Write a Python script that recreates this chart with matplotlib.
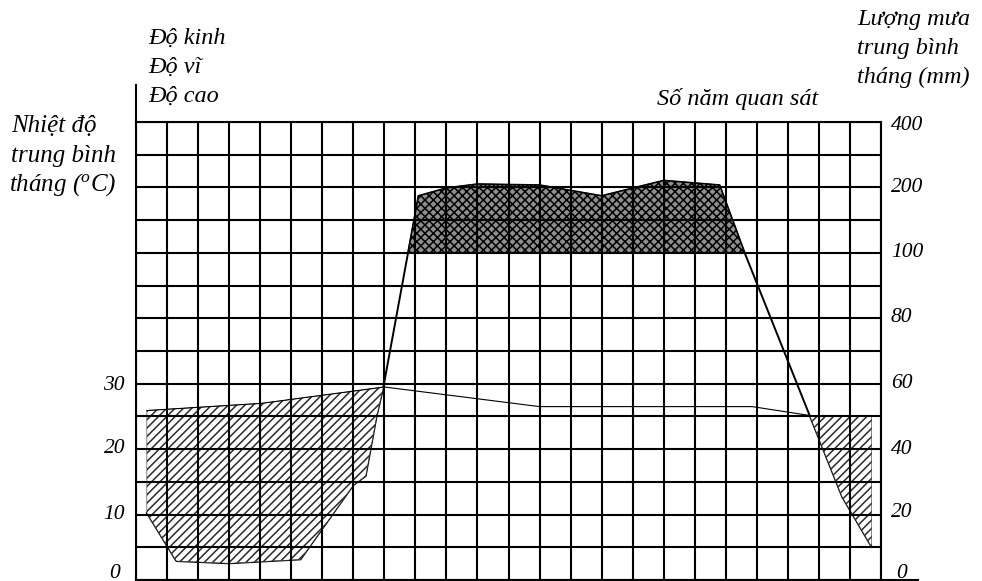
import matplotlib
matplotlib.use("Agg")
import matplotlib.pyplot as plt
import numpy as np

# grid: 24 columns, 14 rows (5 degC / 10 mm per row, compressed above 100 mm)
n_cols = 24
temp_ticks = [0, 10, 20, 30]
rain_ticks = [0, 20, 40, 60, 80, 100, 200, 400]

# temperature curve (column position, degC)
temp_x = [0.35, 4.05, 8.0, 13.0, 19.85, 21.9, 23.7]
temp_c = [25.9, 27.0, 29.5, 26.5, 26.5, 25.0, 25.0]

# rainfall curve (column position, mm)
rain_x = [0.35, 1.3, 3.0, 5.3, 7.0, 7.4, 7.75, 7.97, 9.1, 10.0, 11.0, 13.0,
          15.0, 17.0, 18.8, 19.6, 22.75, 23.7]
rain_mm = [20.5, 5.8, 5.1, 6.3, 29, 31.8, 50, 59, 187, 199, 210, 207,
           187, 221, 207, 101, 25.4, 10.1]


def rain_to_y(p):
    p = np.asarray(p, dtype=float)
    return np.where(p <= 100, p / 2,
                    np.where(p <= 200, 50 + (p - 100) / 10, 60 + (p - 200) / 20))


plt.rcParams["font.family"] = ["Liberation Serif", "DejaVu Serif"]
plt.rcParams["font.style"] = "italic"
plt.rcParams["mathtext.fontset"] = "custom"
plt.rcParams["mathtext.it"] = "Liberation Serif:italic"
plt.rcParams["mathtext.rm"] = "Liberation Serif:italic"
plt.rcParams["hatch.linewidth"] = 1.1

W, H = 982, 581
fig = plt.figure(figsize=(W / 100, H / 100), dpi=100)
ax = fig.add_axes([136 / W, 1 / H, 745 / W, 458 / H])
ax.set_xlim(0, n_cols)
ax.set_ylim(0, 70)

ax.set_xticks(range(n_cols + 1))
ax.set_yticks(range(0, 71, 5))
ax.tick_params(length=0, labelleft=False, labelbottom=False)
ax.set_axisbelow(False)
ax.grid(True, color="black", lw=1.5)
for s in ax.spines.values():
    s.set_linewidth(1.5)

# axis extensions
ax.plot([0, 0], [70, 75.6], color="black", lw=1.5, clip_on=False)
ax.plot([n_cols, 25.2], [0, 0], color="black", lw=1.5, clip_on=False)

rain_y = rain_to_y(rain_mm)
xs = np.union1d(rain_x, temp_x)
T = np.interp(xs, temp_x, temp_c)
R = np.interp(xs, rain_x, rain_y)

ax.plot(rain_x, rain_y, color="black", lw=1.4, zorder=0.9)
# dry period
ax.fill_between(xs, R, T, where=T >= R, interpolate=True, facecolor="white",
                hatch="////", edgecolor="#2a2a2a", lw=0.4, zorder=1)
# very wet period (> 100 mm)
ax.fill_between(xs, 50, R, where=R >= 50, interpolate=True, facecolor="#8e8e8e",
                hatch="xxxx", edgecolor="black", lw=0.9, zorder=1)
ax.plot(temp_x, temp_c, color="black", lw=0.8, zorder=3)

# tick labels (offsets in px from the grid line)
fs_tick = 15.5
px = 72 / 100
temp_up = {0: 7, 10: 0, 20: 1, 30: -2}
temp_dx = {0: -16, 10: -11, 20: -11, 30: -11}
for t in temp_ticks:
    ax.annotate(str(t), (0, t), xytext=(temp_dx[t] * px, temp_up[t] * px),
                textcoords="offset points", ha="right", va="center", fontsize=fs_tick)
rain_up = {0: 7, 20: 2, 40: 0, 60: 0, 80: 1, 100: 0, 200: 0, 400: -3}
for p in rain_ticks:
    dx = 15 if p == 0 else 10
    ax.annotate(str(p), (n_cols, float(rain_to_y(p))), xytext=(dx * px, rain_up[p] * px),
                textcoords="offset points", ha="left", va="center", fontsize=fs_tick)

fs = 17.5


def ftext(x, y, s, size=fs, **kw):
    fig.text(x / W, 1 - y / H, s, fontsize=size, va="baseline", **kw)


ftext(148, 44, "Độ kinh")
ftext(148, 73, "Độ vĩ")
ftext(148, 102, "Độ cao")
ftext(11, 132, "Nhiệt độ", size=18)
ftext(11, 162, "trung bình", size=18)
ftext(9, 191, "tháng ($^{o}$C)", size=18)
ftext(818, 105, "Số năm quan sát", ha="right")
ftext(857, 25, "Lượng mưa")
ftext(857, 54, "trung bình")
ftext(857, 83, "tháng (mm)")

fig.savefig("out.png", dpi=100)
plt.close(fig)
